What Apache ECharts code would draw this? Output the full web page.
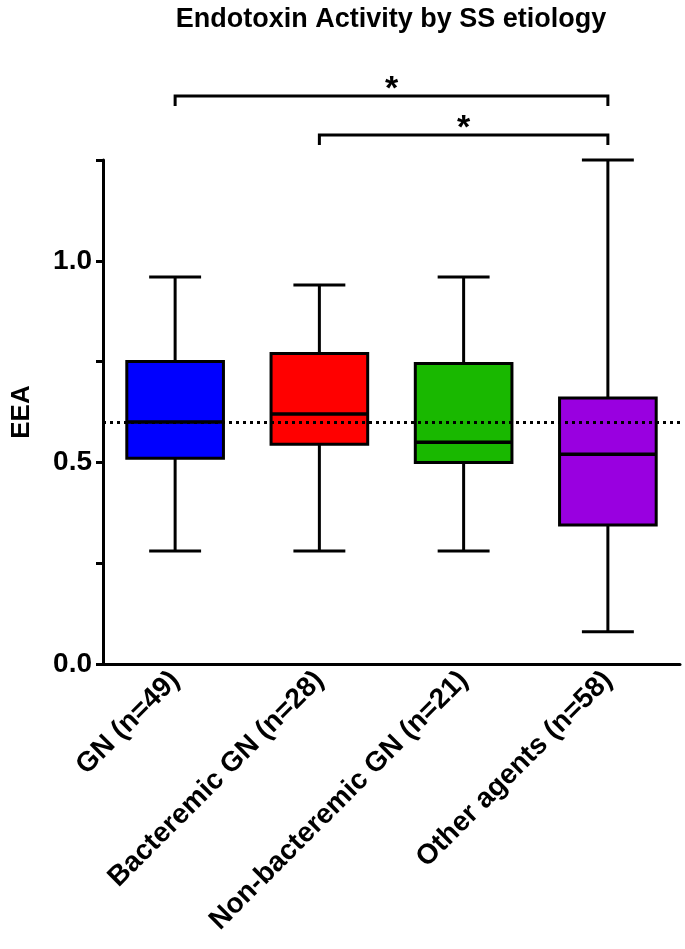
<!DOCTYPE html>
<html>
<head>
<meta charset="utf-8">
<script src="https://cdn.jsdelivr.net/npm/echarts@6/dist/echarts.min.js"></script>
<style>
  html, body { margin: 0; padding: 0; background: #fff; }
  #chart { width: 685px; height: 949px; }
</style>
</head>
<body>
<div id="chart"></div>
<script>
// groups and box summary values
const categories = ["GN (n=49)", "Bacteremic GN (n=28)", "Non-bacteremic GN (n=21)", "Other agents (n=58)"];
const whiskerLow = [0.28, 0.28, 0.28, 0.08];
const q1 = [0.51, 0.545, 0.50, 0.345];
const median = [0.60, 0.62, 0.55, 0.52];
const q3 = [0.75, 0.77, 0.745, 0.66];
const whiskerHigh = [0.96, 0.94, 0.96, 1.25];
const boxColors = ["#0000ff", "#ff0000", "#19b800", "#9900e0"];
const referenceLine = 0.6;
// significance brackets: [from group, to group]
const comparisons = [[0, 3], [1, 3]];
const compLabels = ["*", "*"];

const FONT = '"Liberation Sans", Arial, Helvetica, sans-serif';

const chart = echarts.init(document.getElementById("chart"));

const boxData = categories.map((c, i) => [i, whiskerLow[i], q1[i], median[i], q3[i], whiskerHigh[i]]);

function renderBox(params, api) {
  const i = api.value(0);
  const band = api.size([1, 0])[0];
  const boxW = band * 0.67;
  const capW = band * 0.36;
  const x = api.coord([i, 0])[0];
  const yLo = api.coord([i, api.value(1)])[1];
  const yQ1 = api.coord([i, api.value(2)])[1];
  const yMed = api.coord([i, api.value(3)])[1];
  const yQ3 = api.coord([i, api.value(4)])[1];
  const yHi = api.coord([i, api.value(5)])[1];
  const line = { stroke: "#000", lineWidth: 3 };
  return {
    type: "group",
    children: [
      { type: "line", shape: { x1: x, y1: yHi, x2: x, y2: yQ3 }, style: line },
      { type: "line", shape: { x1: x, y1: yQ1, x2: x, y2: yLo }, style: line },
      { type: "line", shape: { x1: x - capW / 2, y1: yHi, x2: x + capW / 2, y2: yHi }, style: line },
      { type: "line", shape: { x1: x - capW / 2, y1: yLo, x2: x + capW / 2, y2: yLo }, style: line },
      {
        type: "rect",
        shape: { x: x - boxW / 2, y: yQ3, width: boxW, height: yQ1 - yQ3 },
        style: { fill: boxColors[i], stroke: "#000", lineWidth: 3 }
      },
      { type: "line", shape: { x1: x - boxW / 2, y1: yMed, x2: x + boxW / 2, y2: yMed }, style: { stroke: "#000", lineWidth: 3.5 } }
    ]
  };
}

function renderBracket(params, api) {
  const x1 = api.coord([api.value(0), 0])[0];
  const x2 = api.coord([api.value(1), 0])[0];
  const y = params.coordSys.y - 64 + params.dataIndex * 39;
  return {
    type: "group",
    children: [
      {
        type: "polyline",
        shape: { points: [[x1, y + 10], [x1, y], [x2, y], [x2, y + 10]] },
        style: { stroke: "#000", lineWidth: 3, fill: null }
      },
      {
        type: "text",
        style: {
          text: compLabels[params.dataIndex],
          x: (x1 + x2) / 2,
          y: y - 6,
          align: "center",
          verticalAlign: "middle",
          fontSize: 34,
          fontWeight: "bold",
          fontFamily: FONT,
          fill: "#000"
        }
      }
    ]
  };
}

const option = {
  backgroundColor: "#fff",
  animation: false,
  graphic: [
    {
      type: "text",
      x: 391,
      y: 6,
      style: {
        text: "Endotoxin Activity by SS etiology",
        align: "center",
        verticalAlign: "top",
        fontSize: 27,
        fontWeight: "bold",
        fontFamily: FONT,
        fill: "#000"
      }
    }
  ],
  grid: {
    left: 103,
    right: 5,
    top: 160,
    bottom: 285,
    containLabel: false
  },
  xAxis: {
    type: "category",
    data: categories,
    axisLine: { lineStyle: { color: "#000", width: 3 } },
    axisTick: { alignWithLabel: true, length: 8, lineStyle: { width: 3 } },
    axisLabel: {
      rotate: 45,
      margin: 12,
      interval: 0,
      color: "#000",
      fontSize: 28,
      fontWeight: "bold",
      fontFamily: FONT
    },
    splitLine: { show: false }
  },
  yAxis: {
    type: "value",
    min: 0,
    max: 1.25,
    interval: 0.25,
    name: "EEA",
    nameLocation: "middle",
    nameGap: 68,
    nameTextStyle: { color: "#000", fontSize: 26, fontWeight: "bold", fontFamily: FONT },
    axisLine: { show: true, lineStyle: { color: "#000", width: 3 } },
    axisTick: { show: true, length: 7, lineStyle: { width: 3 } },
    axisLabel: {
      margin: 11,
      color: "#000",
      fontSize: 28,
      fontWeight: "bold",
      fontFamily: FONT,
      formatter: (v) => (Math.round(v * 100) % 50 === 0 ? v.toFixed(1) : "")
    },
    splitLine: { show: false }
  },
  series: [
    {
      type: "line",
      data: [],
      z: 1,
      markLine: {
        silent: true,
        symbol: "none",
        label: { show: false },
        lineStyle: { color: "#000", type: [3, 4], width: 3 },
        data: [{ yAxis: referenceLine }]
      }
    },
    {
      type: "custom",
      z: 2,
      data: boxData,
      encode: { x: 0, y: [1, 2, 3, 4, 5] },
      renderItem: renderBox
    },
    {
      type: "custom",
      z: 3,
      clip: false,
      data: comparisons,
      encode: { x: [0, 1] },
      renderItem: renderBracket
    }
  ]
};

chart.setOption(option);
</script>
</body>
</html>
